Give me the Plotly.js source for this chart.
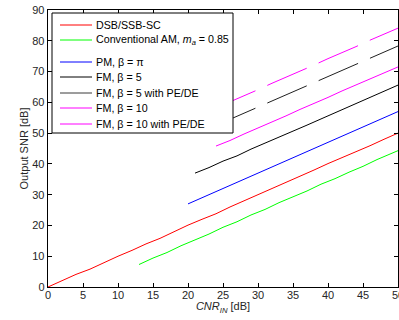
<!DOCTYPE html>
<html>
<head>
<meta charset="utf-8">
<script src="https://cdn.plot.ly/plotly-3.0.1.min.js"></script>
<style>html,body{margin:0;padding:0;background:#fff;}#chart{width:399px;height:320px;}</style>
</head>
<body>
<div id="chart"></div>
<script>
// DSB/SSB-SC
const xDSB = [0,2,4,6,8,10,12,14,16,18,20,22,24,26,28,30,32,34,36,38,40,42,44,46,48,50];
const yDSB = [0,2,4.1,5.8,8,10,11.9,14,15.8,18,20.1,22,23.8,26,28,29.9,32,34,35.8,38,40.1,42,44,45.9,48,50];
// Conventional AM, ma = 0.85
const xAM = [13,15,17,19,21,23,25,27,29,31,33,35,37,39,41,43,45,47,49,50];
const yAM = [7.3,9.4,11.2,13.4,15.3,17.2,19.4,21.2,23.4,25.2,27.4,29.3,31.2,33.4,35.2,37.3,39.2,41.4,43.3,44.3];
// PM, beta = pi
const xPM = [20,22,24,26,28,30,32,34,36,38,40,42,44,46,48,50];
const yPM = [27,29,30.9,33.1,35,36.9,39.1,41,43.1,44.9,47,49.1,50.9,53,55,57];
// FM, beta = 5
const xFM5 = [21,23,25,27,29,31,33,35,37,39,41,43,45,47,49,50];
const yFM5 = [37,38.8,40.9,42.6,44.8,46.7,48.6,50.7,52.6,54.6,56.6,58.5,60.6,62.5,64.6,65.6];
// FM, beta = 5 with PE/DE
const xFM5P = [24,26,28,30,32,34,36,38,40,42,44,46,48,50];
const yFM5P = [52.5,54.5,56.4,58.5,60.4,62.5,64.4,66.5,68.4,70.4,72.5,74.4,76.4,78.3];
// FM, beta = 10
const xFM10 = [24,26,28,30,32,34,36,38,40,42,44,46,48,50];
const yFM10 = [45.8,47.6,49.7,51.6,53.7,55.6,57.7,59.6,61.6,63.7,65.6,67.6,69.6,71.5];
// FM, beta = 10 with PE/DE
const xFM10P = [24,26,28,30,32,34,36,38,40,42,44,46,48,50];
const yFM10P = [58.2,60.1,62.2,64.1,66.2,68.1,70.2,72.1,74.2,76.1,78.1,80.2,82.1,84.1];

const xTicks = [0,5,10,15,20,25,30,35,40,45,50];
const yTicks = [0,10,20,30,40,50,60,70,80,90];

const names = [
  'DSB/SSB-SC',
  'Conventional AM, <i>m</i><sub><i>a</i></sub> = 0.85',
  'PM, β = π',
  'FM, β = 5',
  'FM, β = 5 with PE/DE',
  'FM, β = 10',
  'FM, β = 10 with PE/DE'
];
const colors = ['#ff0000', '#00ff00', '#0000ff', '#000000', '#3a3a3a', '#ff00ff', '#ff00ff'];
const dashes = ['solid', 'solid', 'solid', 'solid', '43px,13px', 'solid', '43px,13px'];

const FONT = 'Liberation Sans, Arial, sans-serif';

function tr(x, y, i) {
  return {x: x, y: y, name: names[i], type: 'scatter', mode: 'lines', showlegend: false,
    line: {color: i === 4 ? '#202020' : colors[i], width: 1, dash: dashes[i]}};
}

const data = [
  tr(xDSB, yDSB, 0), tr(xAM, yAM, 1), tr(xPM, yPM, 2), tr(xFM5, yFM5, 3),
  tr(xFM5P, yFM5P, 4), tr(xFM10, yFM10, 5), tr(xFM10P, yFM10P, 6)
];

// legend box drawn in paper coordinates (plot area 350 x 277 px)
const PW = 350, PH = 277;
const px = v => v / PW;
const py = v => 1 - v / PH;
const itemY = [15, 30, 52, 67, 83, 98, 114];
const shapes = [{
  type: 'rect', xref: 'paper', yref: 'paper', layer: 'above',
  x0: px(4), x1: px(185), y0: py(123), y1: py(3),
  fillcolor: '#ffffff', line: {color: '#000', width: 1}
}];
const annotations = [];
names.forEach((n, i) => {
  shapes.push({type: 'line', xref: 'paper', yref: 'paper', layer: 'above',
    x0: px(12), x1: px(44), y0: py(itemY[i]), y1: py(itemY[i]),
    line: {color: colors[i], width: 1}});
  annotations.push({xref: 'paper', yref: 'paper', x: px(46), y: py(itemY[i]),
    xanchor: 'left', yanchor: 'middle', text: n, showarrow: false,
    font: {family: FONT, size: 10.7, color: '#000'}});
});

const axisCommon = {
  showgrid: false, zeroline: false, showline: true, linecolor: '#000', linewidth: 1.3,
  mirror: 'ticks', ticks: 'inside', ticklen: 4, tickcolor: '#000',
  tickfont: {family: FONT, size: 11, color: '#262626'}
};

const layout = {
  width: 399, height: 320,
  margin: {l: 48, r: 1, t: 10, b: 33},
  paper_bgcolor: '#fff', plot_bgcolor: '#fff',
  showlegend: false,
  font: {family: FONT, size: 11, color: '#262626'},
  xaxis: Object.assign({}, axisCommon, {
    range: [0, 50], tickvals: xTicks, ticktext: xTicks.map(String),
    ticklabeloverflow: 'allow', ticklabelstandoff: -3,
    title: {text: '<i>CNR</i><sub><i>IN</i></sub> [dB]', standoff: 0,
      font: {family: FONT, size: 11, color: '#262626'}}
  }),
  yaxis: Object.assign({}, axisCommon, {
    range: [0, 90], tickvals: yTicks, ticktext: yTicks.map(String),
    title: {text: 'Output SNR [dB]', standoff: 1,
      font: {family: FONT, size: 11, color: '#262626'}}
  }),
  shapes: shapes,
  annotations: annotations
};

Plotly.newPlot('chart', data, layout, {displayModeBar: false, staticPlot: true});
</script>
</body>
</html>
